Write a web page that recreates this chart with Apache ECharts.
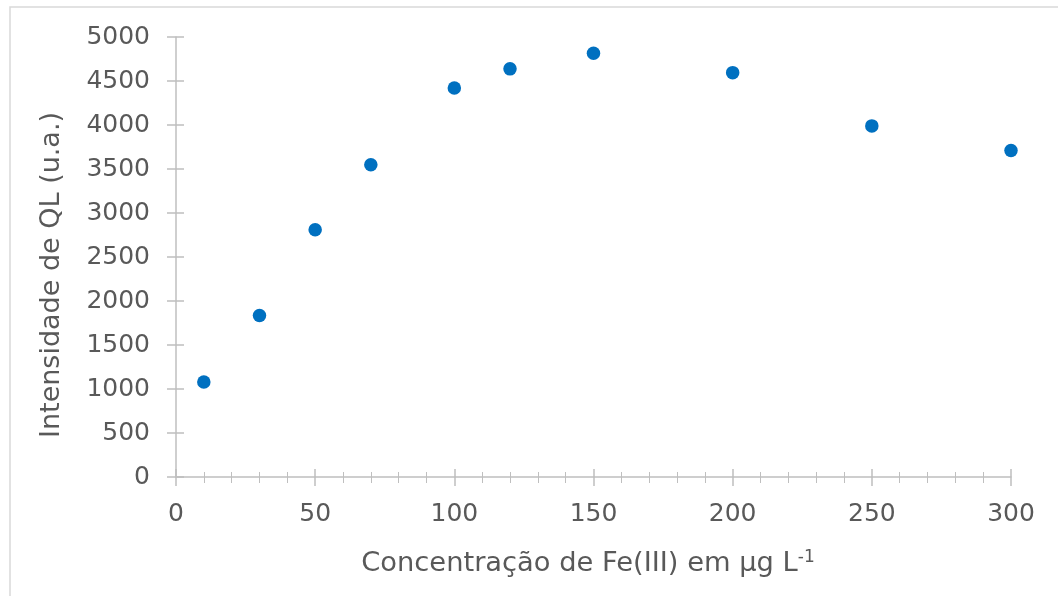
<!DOCTYPE html>
<html>
<head>
<meta charset="utf-8">
<script src="https://cdn.jsdelivr.net/npm/echarts@6/dist/echarts.min.js"></script>
<style>html,body{margin:0;padding:0;background:#fff}#c{width:1058px;height:596px}</style>
</head>
<body>
<div id="c"></div>
<script>
const concentrations = [10, 30, 50, 70, 100, 120, 150, 200, 250, 300];
const intensities = [1080, 1835, 2810, 3548, 4420, 4638, 4815, 4595, 3990, 3710];
const xTitle = 'Concentração de Fe(III) em µg L';
const xTitleSup = '-1';
const yTitle = 'Intensidade de QL (u.a.)';

const textColor = '#595959';
const axisColor = '#bfbfbf';
const font = 'DejaVu Sans';
const chart = echarts.init(document.getElementById('c'));
const plain = v => String(v);
const gridBox = { left: 176, right: 47, top: 37, bottom: 119 };
const baseX = {
  type: 'value', min: 0, max: 300, interval: 50, position: 'bottom',
  splitLine: { show: false }, axisLine: { show: false, onZero: false },
  axisTick: { show: false }, minorTick: { show: false }, axisLabel: { show: false }
};
const baseY = {
  type: 'value', min: 0, max: 5000, interval: 500, position: 'left',
  splitLine: { show: false }, axisLine: { show: false, onZero: false },
  axisTick: { show: false }, axisLabel: { show: false }
};
const tickStyle = { color: axisColor, width: 1.5 };
chart.setOption({
  animation: false,
  grid: [Object.assign({}, gridBox), Object.assign({}, gridBox), Object.assign({}, gridBox)],
  xAxis: [
    Object.assign({}, baseX, {
      gridIndex: 0,
      axisLine: { show: true, onZero: false, lineStyle: tickStyle },
      axisLabel: { show: true, color: textColor, fontFamily: font, fontSize: 25, margin: 25, formatter: plain }
    }),
    Object.assign({}, baseX, {
      gridIndex: 1, offset: -8,
      axisTick: { show: true, length: 17, lineStyle: tickStyle }
    }),
    Object.assign({}, baseX, {
      gridIndex: 2, offset: -5,
      minorTick: { show: true, splitNumber: 5, length: 11, lineStyle: { color: axisColor, width: 1 } }
    })
  ],
  yAxis: [
    Object.assign({}, baseY, {
      gridIndex: 0,
      axisLine: { show: true, onZero: false, lineStyle: tickStyle },
      axisLabel: { show: true, color: textColor, fontFamily: font, fontSize: 25, margin: 26, formatter: plain }
    }),
    Object.assign({}, baseY, {
      gridIndex: 1, offset: -8,
      axisTick: { show: true, length: 17, lineStyle: tickStyle }
    }),
    Object.assign({}, baseY, { gridIndex: 2 })
  ],
  graphic: [
    { type: 'rect', shape: { x: 10, y: 7, width: 1200, height: 800 }, style: { fill: 'none', stroke: '#d9d9d9', lineWidth: 1.5 }, silent: true },
    { type: 'text', x: 588, y: 564, style: {
        text: '{a|' + xTitle + '}{s|' + xTitleSup + '}',
        align: 'center', verticalAlign: 'middle',
        rich: {
          a: { fontFamily: font, fontSize: 27.3, fill: textColor },
          s: { fontFamily: font, fontSize: 17, fill: textColor, verticalAlign: 'top', padding: [0, 0, 12, 0] }
        }
      } },
    { type: 'text', x: 52, y: 275, rotation: Math.PI / 2, style: {
        text: yTitle, align: 'center', verticalAlign: 'middle',
        fontFamily: font, fontSize: 27, fill: textColor
      } }
  ],
  series: [{
    type: 'scatter',
    xAxisIndex: 0, yAxisIndex: 0,
    data: concentrations.map((c, i) => [c, intensities[i]]),
    symbol: 'circle', symbolSize: 13.5,
    itemStyle: { color: '#0070C0', opacity: 1 },
    z: 5
  }, {
    type: 'scatter', xAxisIndex: 1, yAxisIndex: 1, data: [], silent: true
  }, {
    type: 'scatter', xAxisIndex: 2, yAxisIndex: 2, data: [], silent: true
  }]
});
</script>
</body>
</html>
